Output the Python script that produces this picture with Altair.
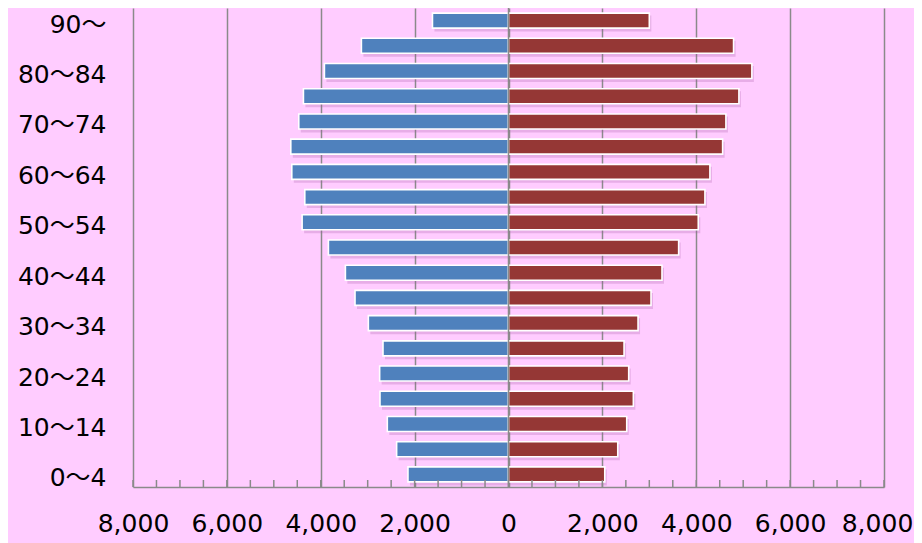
import altair as alt
import pandas as pd

ages = ["0～4", "5～9", "10～14", "15～19", "20～24", "25～29", "30～34", "35～39",
        "40～44", "45～49", "50～54", "55～59", "60～64", "65～69", "70～74", "75～79",
        "80～84", "85～89", "90～"]
male = [2142, 2383, 2582, 2738, 2745, 2674, 2986, 3270, 3475, 3837, 4397, 4340,
        4617, 4638, 4468, 4369, 3922, 3134, 1620]
female = [2051, 2328, 2519, 2660, 2561, 2462, 2760, 3036, 3270, 3625, 4043, 4185,
          4291, 4562, 4632, 4909, 5185, 4795, 3000]
x_ticks = [-8000, -6000, -4000, -2000, 0, 2000, 4000, 6000, 8000]
minor_ticks = list(range(-8000, 8001, 500))
age_labels = ages[::2]

rows = []
for a, m, f in zip(ages, male, female):
    rows.append({"age": a, "sex": "男", "value": -m})
    rows.append({"age": a, "sex": "女", "value": f})
df = pd.DataFrame(rows)

W, H = 751, 479
GRID = "#8a8a8a"
FONT = "DejaVu Sans, Noto Sans CJK JP"

xscale = alt.Scale(domain=[-8000, 8000], nice=False, zero=False)
xaxis = alt.Axis(values=x_ticks, labelExpr="format(abs(datum.value), ',')",
                 grid=True, gridColor=GRID, gridWidth=1.5, ticks=False,
                 domainColor=GRID, domainWidth=1.5, labelFont=FONT, labelFontSize=25,
                 labelColor="#000000", labelPadding=24, title=None, labelFlush=False,
                 labelOffset={"condition": {"test": "datum.value == 8000", "value": -7},
                              "value": 0})
yaxis = alt.Axis(values=age_labels, ticks=False, domain=False, grid=False,
                 labelFont=FONT, labelFontSize=25, labelColor="#000000",
                 labelPadding=27, labelOffset=4, title=None)
ysort = ages[::-1]

shadow = alt.Chart(df).mark_bar(size=16, color="#a050a0", opacity=0.25,
                                yOffset=3, xOffset=2).encode(
    x=alt.X("value:Q", scale=xscale, axis=xaxis),
    y=alt.Y("age:N", sort=ysort, axis=yaxis, scale=alt.Scale(paddingInner=0, paddingOuter=0)),
)

bars = alt.Chart(df).mark_bar(size=15, stroke="white", strokeWidth=1.6).encode(
    x=alt.X("value:Q", scale=xscale, axis=xaxis),
    y=alt.Y("age:N", sort=ysort, axis=yaxis),
    color=alt.Color("sex:N", scale=alt.Scale(domain=["男", "女"],
                                             range=["#4F81BD", "#953735"]), legend=None),
)

zero = alt.Chart(pd.DataFrame({"v": [0]})).mark_rule(color=GRID, strokeWidth=1.5).encode(
    x=alt.X("v:Q", scale=xscale, axis=xaxis),
)

minor = alt.Chart(pd.DataFrame({"v": minor_ticks})).mark_rule(color=GRID, strokeWidth=1.5).encode(
    x=alt.X("v:Q", scale=xscale, axis=xaxis),
    y=alt.value(H - 7),
    y2=alt.value(H),
)

chart = alt.layer(shadow, bars, zero, minor).properties(
    width=W, height=H,
    autosize=alt.AutoSizeParams(type="none"),
    padding={"left": 125, "top": 0, "right": 30, "bottom": 56},
    background="#FFCCFF",
).configure_view(stroke=None)

chart.save("out.html", embed_options={"renderer": "svg", "actions": False})
